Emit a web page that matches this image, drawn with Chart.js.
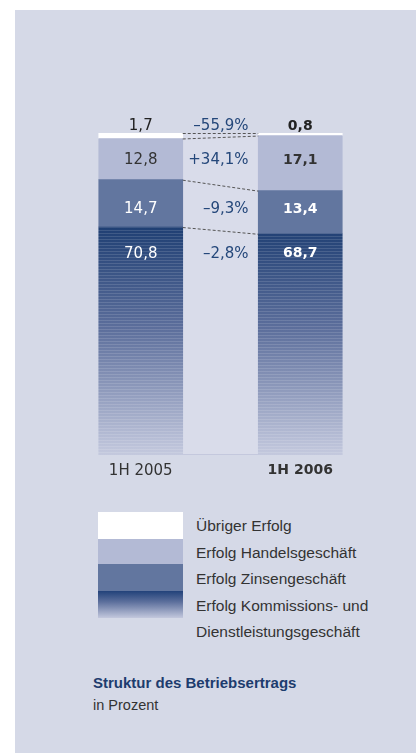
<!DOCTYPE html>
<html lang="de">
<head>
<meta charset="UTF-8">
<title>Struktur des Betriebsertrags</title>
<script src="https://cdn.jsdelivr.net/npm/chart.js"></script>
<style>
  body { margin: 0; background: #fff; font-family: "Liberation Sans", Arial, sans-serif; }
  .panel { position: absolute; left: 15px; top: 10px; width: 401px; height: 743px; background: #d5d9e7; }
  #chart { position: absolute; left: 0; top: 0; }
  .legend { position: absolute; left: 98px; top: 512px; }
  .swatch { position: absolute; left: 0; width: 85px; }
  .legend .txt { position: absolute; left: 98px; top: 1px; width: 240px; font-size: 15.5px; line-height: 26.5px; color: #333; white-space: nowrap; }
  .caption { position: absolute; left: 93px; top: 672px; font-size: 14.5px; color: #333; line-height: 22px; }
  .caption b { color: #1d3c6e; font-size: 15px; }
</style>
</head>
<body>
<div class="panel"></div>
<canvas id="chart" width="416" height="500"></canvas>

<div class="legend">
  <div class="swatch" style="top:0;height:27px;background:#fff"></div>
  <div class="swatch" style="top:27px;height:25px;background:#b3bad5"></div>
  <div class="swatch" style="top:52px;height:27px;background:#62769f"></div>
  <div class="swatch" style="top:79px;height:27px;background:linear-gradient(#22427a,#5c6f9c 40%,#c3c8dd)"></div>
  <div class="txt">Übriger Erfolg<br>Erfolg Handelsgeschäft<br>Erfolg Zinsengeschäft<br>Erfolg Kommissions- und<br>Dienstleistungsgeschäft</div>
</div>

<div class="caption"><b>Struktur des Betriebsertrags</b><br>in Prozent</div>

<script>
// Anteile in Prozent, 1H 2005 / 1H 2006
const categories = ['1H 2005', '1H 2006'];
const kommissions = [70.8, 68.7];
const zinsen = [14.7, 13.4];
const handel = [12.8, 17.1];
const uebriger = [1.7, 0.8];
// Veränderung in %, gleiche Reihenfolge wie die Datasets (unten nach oben)
const changes = [-2.8, -9.3, 34.1, -55.9];

const numFont = '"DejaVu Sans", sans-serif';
const fmt = v => v.toFixed(1).replace('.', ',');
const fmtChange = v => (v < 0 ? '\u2013' : '+') + Math.abs(v).toFixed(1).replace('.', ',') + '%';

// striped gradient for Kommissionsgeschäft
let stripeCache = null;
function kommFill(context) {
  const chart = context.chart;
  const area = chart.chartArea;
  if (!area) return '#1f3f73';
  const key = area.top + '_' + area.bottom;
  if (stripeCache && stripeCache.key === key) return stripeCache.pattern;
  const y = chart.scales.y;
  const top = y.getPixelForValue(Math.max(...kommissions));
  const off = document.createElement('canvas');
  off.width = chart.width;
  off.height = chart.height;
  const c = off.getContext('2d');
  const g = c.createLinearGradient(0, top, 0, area.bottom);
  g.addColorStop(0, '#1f3f73');
  g.addColorStop(0.45, '#5d6f9c');
  g.addColorStop(1, '#c4c9de');
  c.fillStyle = g;
  c.fillRect(0, 0, off.width, off.height);
  c.fillStyle = 'rgba(255,255,255,0.13)';
  for (let yy = Math.floor(top); yy < area.bottom; yy += 3) c.fillRect(0, yy, off.width, 1);
  const pattern = chart.ctx.createPattern(off, 'no-repeat');
  stripeCache = { key, pattern };
  return pattern;
}

const overlay = {
  id: 'overlay',
  beforeDatasetsDraw(chart) {
    const { ctx, chartArea } = chart;
    const x = chart.scales.x;
    const bw = 84;
    const l = x.getPixelForValue(0) + bw / 2;
    const r = x.getPixelForValue(1) - bw / 2;
    ctx.save();
    ctx.fillStyle = '#d9dcea';
    ctx.fillRect(l, chartArea.top, r - l, chartArea.bottom - chartArea.top);
    ctx.fillStyle = '#c4c8dd';
    ctx.fillRect(l, chartArea.bottom - 1, r - l, 1);
    ctx.restore();
  },
  afterDatasetsDraw(chart) {
    const { ctx, chartArea } = chart;
    const x = chart.scales.x;
    const y = chart.scales.y;
    const series = [kommissions, zinsen, handel, uebriger];
    const bw = 84;
    const l = x.getPixelForValue(0) + bw / 2;
    const r = x.getPixelForValue(1) - bw / 2;
    const mid = (l + r) / 2;

    // segment bounds per bar
    const bounds = [0, 1].map(i => {
      let acc = 0;
      return series.map(s => {
        const b = acc;
        acc += s[i];
        return { bottom: y.getPixelForValue(b), top: y.getPixelForValue(acc) };
      });
    });

    // dashed connectors
    ctx.save();
    ctx.strokeStyle = '#555';
    ctx.lineWidth = 1;
    ctx.setLineDash([3, 2]);
    for (let k = 0; k < series.length; k++) {
      ctx.beginPath();
      ctx.moveTo(l, bounds[0][k].top + 0.5);
      ctx.lineTo(r, bounds[1][k].top + 0.5);
      ctx.stroke();
    }
    ctx.restore();

    // row positions for the labels
    const rowY = k => {
      if (k === 3) return chartArea.top - 7;
      if (k === 0) return Math.max(bounds[0][0].top, bounds[1][0].top) + 20;
      return (bounds[0][k].top + bounds[0][k].bottom + bounds[1][k].top + bounds[1][k].bottom) / 4 + (k === 1 ? 1.5 : -1);
    };
    const textColor = ['#fff', '#fff', '#333', '#222'];

    ctx.save();
    ctx.textBaseline = 'middle';
    for (let k = 0; k < series.length; k++) {
      const yy = rowY(k);
      ctx.textAlign = 'center';
      ctx.fillStyle = textColor[k];
      ctx.font = '15px ' + numFont;
      ctx.fillText(fmt(series[k][0]), x.getPixelForValue(0), yy);
      ctx.font = 'bold 14px ' + numFont;
      ctx.fillText(fmt(series[k][1]), x.getPixelForValue(1), yy);
      ctx.font = '15px ' + numFont;
      ctx.fillStyle = '#24477a';
      ctx.textAlign = 'right';
      ctx.fillText(fmtChange(changes[k]), mid + 28, yy);
    }
    ctx.restore();
  }
};

new Chart(document.getElementById('chart'), {
  type: 'bar',
  data: {
    labels: categories,
    datasets: [
      { label: 'Erfolg Kommissions- und Dienstleistungsgeschäft', data: kommissions, backgroundColor: kommFill },
      { label: 'Erfolg Zinsengeschäft', data: zinsen, backgroundColor: '#62769f' },
      { label: 'Erfolg Handelsgeschäft', data: handel, backgroundColor: '#b3bad5' },
      { label: 'Übriger Erfolg', data: uebriger, backgroundColor: '#ffffff' }
    ]
  },
  options: {
    responsive: false,
    animation: false,
    barThickness: 84,
    layout: { padding: { left: 61, right: 36, top: 133, bottom: 13 } },
    plugins: { legend: { display: false }, tooltip: { enabled: false } },
    scales: {
      x: {
        stacked: true,
        grid: { display: false, drawTicks: false },
        border: { display: false },
        ticks: {
          padding: 7,
          color: '#333',
          font: c => c.index === 1
            ? { family: numFont, size: 14, weight: 'bold' }
            : { family: numFont, size: 15, weight: 'normal' }
        }
      },
      y: { stacked: true, display: false, min: 0, max: 100 }
    }
  },
  plugins: [overlay]
});
</script>
</body>
</html>
